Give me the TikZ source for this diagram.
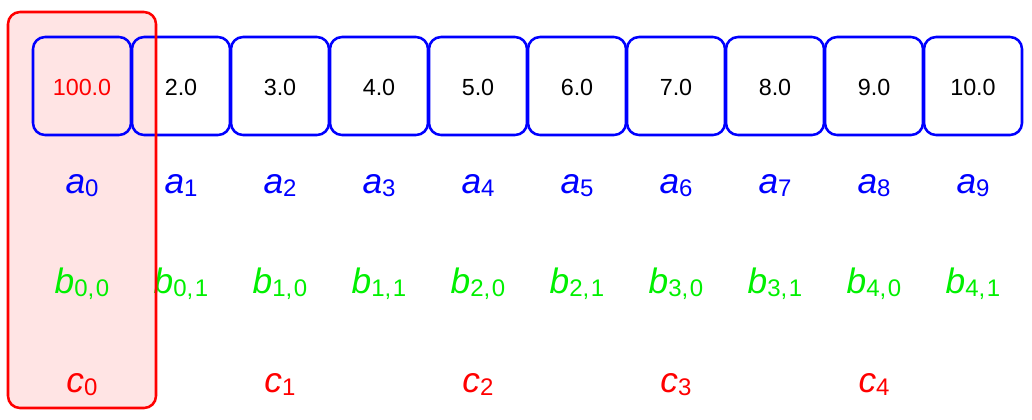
\documentclass[tikz,border=0pt]{standalone}
\usepackage{fontspec}
\setmainfont{Liberation Sans}
\definecolor{pinkfill}{RGB}{255,228,228}
\definecolor{bgreen}{RGB}{0,240,0}
\newcommand{\numfont}{\fontsize{17.5}{20}\selectfont}
\newcommand{\labfont}{\fontsize{26.5}{30}\selectfont}
\newcommand{\subfont}{\fontsize{18}{22}\selectfont}
\newcommand{\lab}[2]{{\labfont\itshape #1}\raisebox{-0.28em}{\subfont #2}}
\begin{document}
\begin{tikzpicture}[x=0.75pt,y=-0.75pt,
  cell/.style={draw=blue,line width=1.9pt,rounded corners=9pt,minimum width=73.5pt,minimum height=73.5pt,inner sep=0pt},
  num/.style={anchor=base,font=\numfont,inner sep=0pt},
  lbl/.style={anchor=base,inner sep=0pt}]
\useasboundingbox (0,0) rectangle (1032,419);
\fill[pinkfill,rounded corners=9pt] (8,12) rectangle (156,408);
\foreach \i in {0,...,9}{
  \node[cell] (box\i) at ({82+99*\i},86) {};
}
\node[num,text=red] (n0) at (82,95) {100.0};
\foreach \i/\v in {1/2.0,2/3.0,3/4.0,4/5.0,5/6.0,6/7.0,7/8.0,8/9.0,9/10.0}{
  \node[num] (n\i) at ({82+99*\i},95) {\v};
}
\foreach \i in {0,...,9}{
  \node[lbl,text=blue] (a\i) at ({82+99*\i},193) {\lab{a}{\i}};
}
\foreach \i/\j/\k in {0/0/0,1/0/1,2/1/0,3/1/1,4/2/0,5/2/1,6/3/0,7/3/1,8/4/0,9/4/1}{
  \node[lbl,text=bgreen] (b\i) at ({82+99*\i},293) {\lab{b}{\j,\kern1.2pt\k}};
}
\foreach \i in {0,...,4}{
  \node[lbl,text=red] (c\i) at ({82+198*\i},392) {\lab{c}{\i}};
}
\draw[red,line width=1.9pt,rounded corners=9pt] (8,12) rectangle (156,408);
\end{tikzpicture}
\end{document}
